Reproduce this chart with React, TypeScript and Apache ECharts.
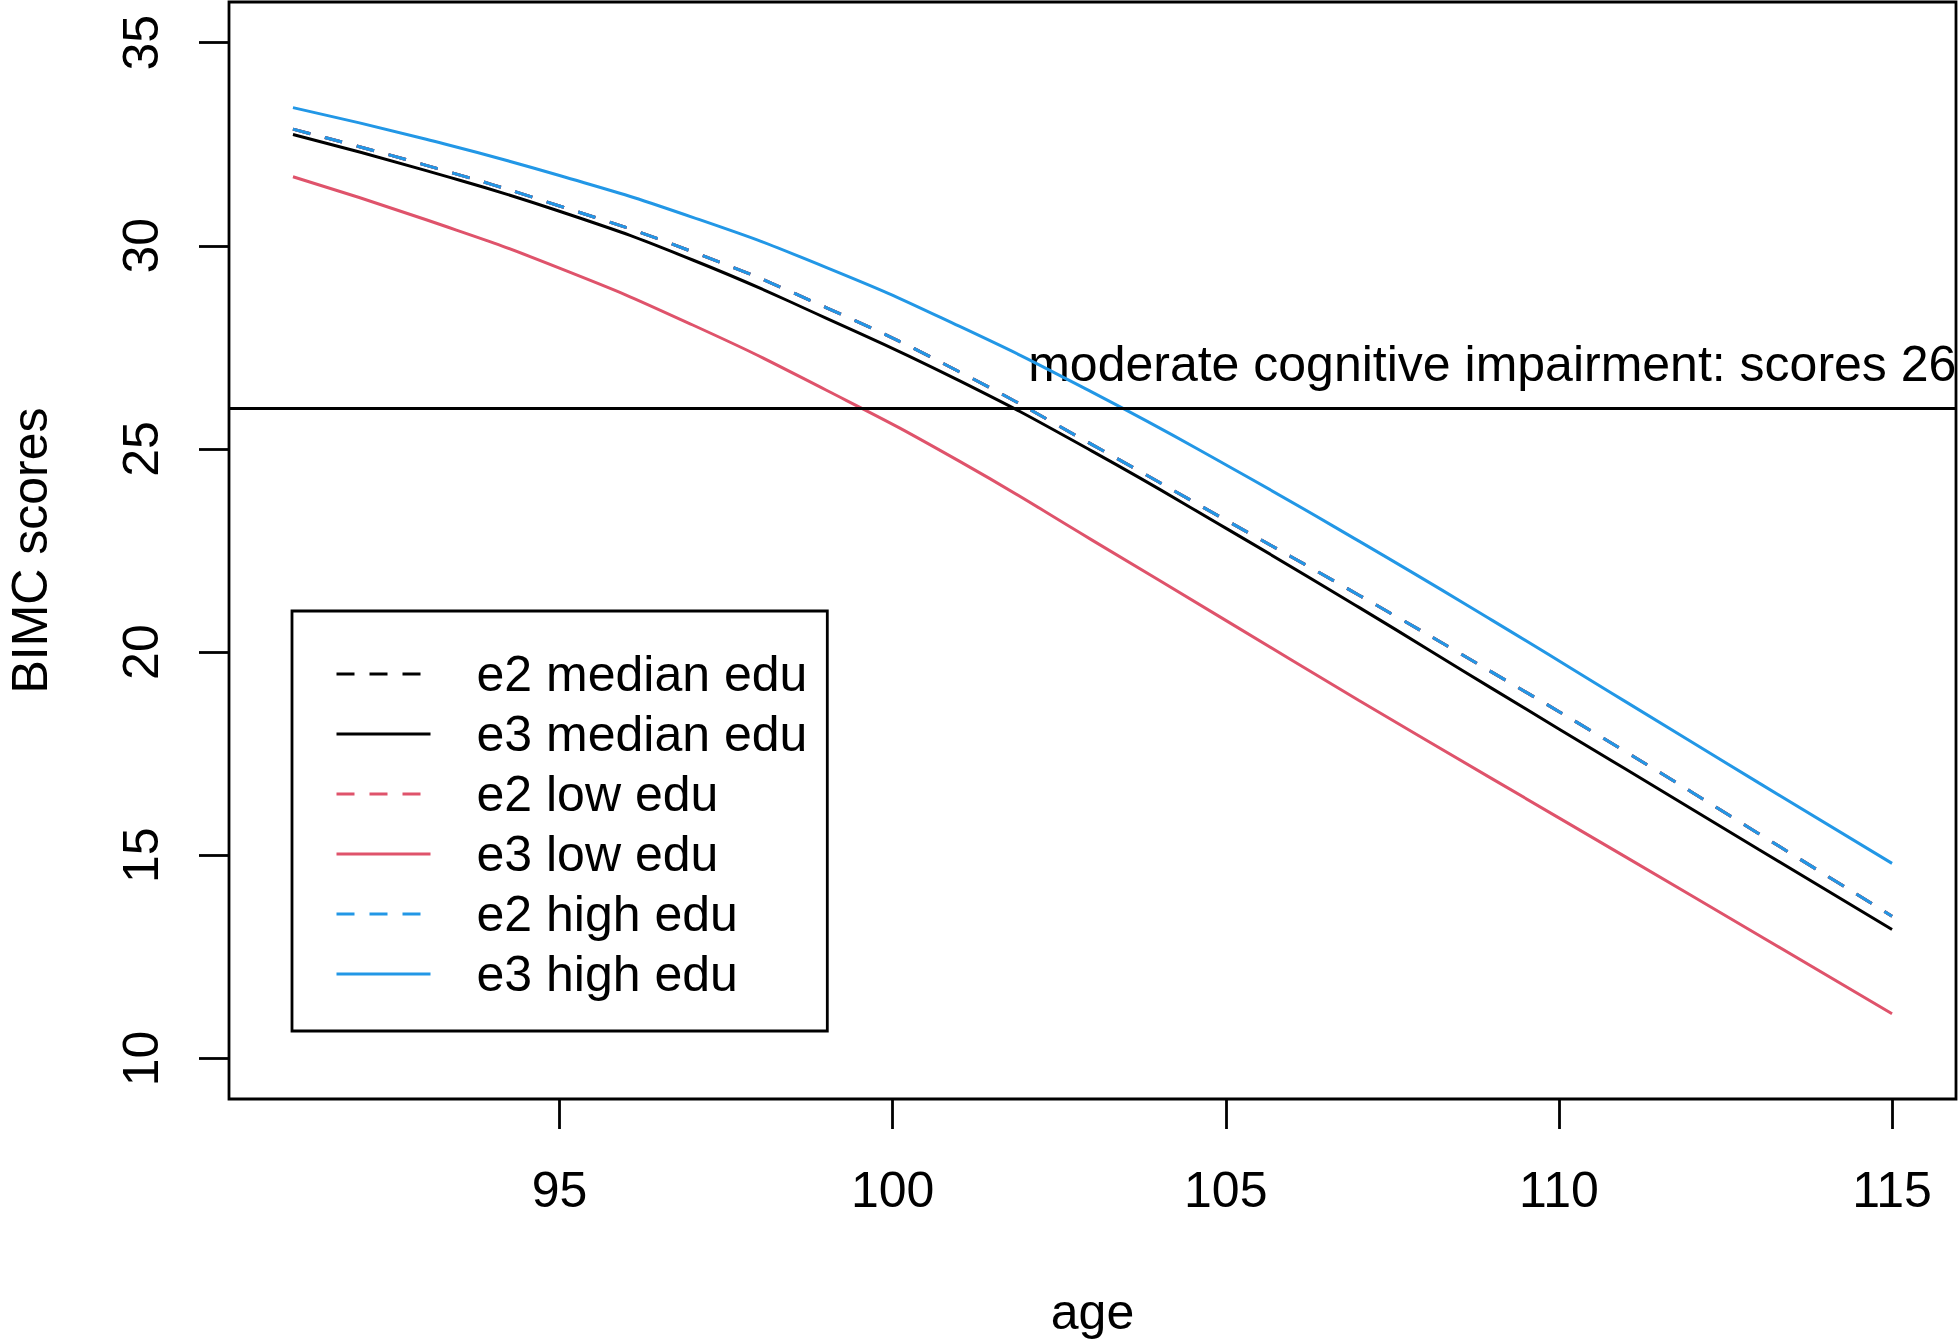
import React, { useEffect, useRef } from "react";
import * as echarts from "echarts";

const ages = [91, 93, 95, 97, 99, 101, 103, 105, 107, 109, 111, 113, 115];
const e2MedianEdu = [32.87, 31.98, 30.98, 29.85, 28.48, 26.9, 25.1, 23.25, 21.4, 19.5, 17.55, 15.53, 13.5];
const e3MedianEdu = [32.74, 31.85, 30.85, 29.65, 28.22, 26.68, 24.94, 23.05, 21.1, 19.1, 17.12, 15.14, 13.17];
const e2LowEdu = [32.87, 31.98, 30.98, 29.85, 28.48, 26.9, 25.1, 23.25, 21.4, 19.5, 17.55, 15.53, 13.5];
const e3LowEdu = [31.7, 30.64, 29.45, 28.05, 26.45, 24.7, 22.75, 20.78, 18.81, 16.88, 14.96, 13.03, 11.1];
const e2HighEdu = [32.87, 31.98, 30.98, 29.85, 28.48, 26.9, 25.1, 23.25, 21.4, 19.5, 17.55, 15.53, 13.5];
const e3HighEdu = [33.4, 32.62, 31.73, 30.7, 29.47, 28.02, 26.39, 24.61, 22.73, 20.78, 18.78, 16.78, 14.8];

const xTicks = [95, 100, 105, 110, 115];
const yTicks = [10, 15, 20, 25, 30, 35];
const threshold = 26;
const annotationText = "moderate cognitive impairment: scores 26";
const annotationPoint = [109, 27];

const FONT = "'Liberation Sans', Arial, Helvetica, sans-serif";
const BLACK = "#000000";
const RED = "#DF536B";
const BLUE = "#2297E6";
const DASH = [18, 15];
const LINE_W = 3;

const seriesDefs = [
  { name: "e2 median edu", values: e2MedianEdu, color: BLACK, dashed: true },
  { name: "e3 median edu", values: e3MedianEdu, color: BLACK, dashed: false },
  { name: "e2 low edu", values: e2LowEdu, color: RED, dashed: true },
  { name: "e3 low edu", values: e3LowEdu, color: RED, dashed: false },
  { name: "e2 high edu", values: e2HighEdu, color: BLUE, dashed: true },
  { name: "e3 high edu", values: e3HighEdu, color: BLUE, dashed: false },
];

export default function App() {
  const ref = useRef<HTMLDivElement>(null);

  useEffect(() => {
    if (!ref.current) return;
    const chart = echarts.init(ref.current, null, { renderer: "svg" });

    const lineSeries = seriesDefs.map((s) => ({
      name: s.name,
      type: "line",
      data: ages.map((a, i) => [a, s.values[i]]),
      symbol: "none",
      smooth: 0.5,
      color: s.color,
      lineStyle: {
        color: s.color,
        width: LINE_W,
        type: s.dashed ? DASH : "solid",
      },
      emphasis: { disabled: true },
      silent: true,
      z: 3,
    }));

    const option: any = {
      animation: false,
      backgroundColor: "#ffffff",
      grid: {
        left: 229,
        right: 4,
        top: 2,
        bottom: 241,
        show: true,
        borderColor: BLACK,
        borderWidth: 2.8,
        backgroundColor: "transparent",
        containLabel: false,
        outerBoundsMode: "none",
      },
      xAxis: {
        type: "value",
        min: 90.04,
        max: 115.96,
        name: "age",
        nameLocation: "middle",
        nameGap: 188,
        nameTextStyle: { fontSize: 50, color: BLACK, fontFamily: FONT, lineHeight: 50 },
        axisLine: { show: false },
        splitLine: { show: false },
        axisTick: {
          show: true,
          length: 30,
          customValues: xTicks,
          lineStyle: { color: BLACK, width: 2.8 },
        },
        axisLabel: {
          customValues: xTicks,
          fontSize: 50,
          lineHeight: 50,
          margin: 66,
          color: BLACK,
          fontFamily: FONT,
        },
      },
      yAxis: {
        type: "value",
        min: 9,
        max: 36,
        name: "BIMC scores",
        nameLocation: "middle",
        nameGap: 179,
        nameTextStyle: { fontSize: 50, color: BLACK, fontFamily: FONT, lineHeight: 40 },
        axisLine: { show: false },
        splitLine: { show: false },
        axisTick: {
          show: true,
          length: 30,
          customValues: yTicks,
          lineStyle: { color: BLACK, width: 2.8 },
        },
        axisLabel: {
          customValues: yTicks,
          rotate: 90,
          fontSize: 50,
          lineHeight: 50,
          margin: 63,
          color: BLACK,
          fontFamily: FONT,
        },
      },
      legend: {
        data: seriesDefs.map((s) => ({
          name: s.name,
          itemStyle: { opacity: 0 },
          lineStyle: { color: s.color, width: LINE_W, type: s.dashed ? DASH : "solid", opacity: 1 },
        })),
        orient: "vertical",
        left: 292,
        top: 611,
        selectedMode: false,
        itemWidth: 94,
        itemHeight: 50,
        itemGap: 10,
        padding: [38, 20, 32, 43],
        borderColor: BLACK,
        borderWidth: 2.8,
        borderRadius: 0,
        backgroundColor: "#ffffff",
        itemStyle: { opacity: 0 },
        textStyle: {
          fontSize: 50,
          lineHeight: 50,
          color: BLACK,
          fontFamily: FONT,
          padding: [0, 0, 0, 41],
        },
      },
      series: [
        ...lineSeries,
        {
          name: "annotation",
          type: "scatter",
          data: [annotationPoint],
          symbolSize: 0,
          silent: true,
          itemStyle: { color: BLACK, opacity: 1 },
          label: {
            show: true,
            position: "inside",
            offset: [0, -4],
            formatter: annotationText,
            fontSize: 50,
            lineHeight: 50,
            color: BLACK,
            opacity: 1,
            textBorderWidth: 0,
            textBorderColor: "transparent",
            fontFamily: FONT,
          },
          markLine: {
            silent: true,
            symbol: ["none", "none"],
            label: { show: false },
            lineStyle: { color: BLACK, width: LINE_W, type: "solid", opacity: 1 },
            data: [{ yAxis: threshold }],
          },
          z: 2,
        },
      ],
    };

    chart.setOption(option);
    return () => chart.dispose();
  }, []);

  return (
    <div
      ref={ref}
      style={{ position: "fixed", left: 0, top: 0, width: 1960, height: 1340, background: "#fff" }}
    />
  );
}
